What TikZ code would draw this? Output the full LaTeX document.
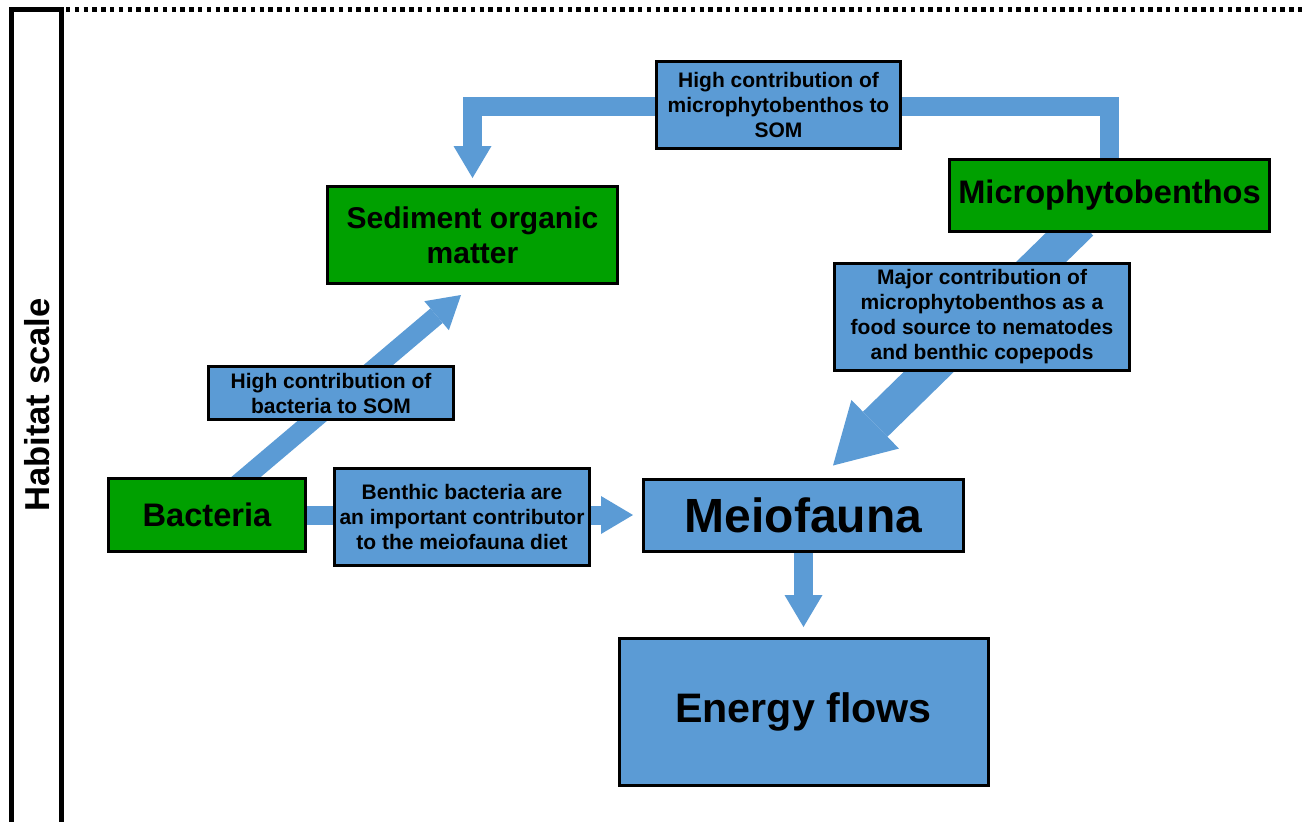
\documentclass[tikz,border=0pt]{standalone}
\usepackage{fontspec}
\setmainfont{Liberation Sans}
\usepackage{tikz}
\usetikzlibrary{arrows.meta, backgrounds, positioning}
\definecolor{boxgreen}{RGB}{0,160,0}
\definecolor{boxblue}{RGB}{91,155,213}
\tikzset{
    greennode/.style = {draw, rectangle, fill=boxgreen, line width=1.5pt, inner sep=0pt, 
      node distance=0em, font=\bfseries\fontsize{16.3}{19}\selectfont},
    bluenode/.style = {draw, rectangle, fill=boxblue, line width=1.5pt, inner sep=0pt, 
      node distance=0em, font=\bfseries},
    labelnode/.style = {bluenode, font=\bfseries\fontsize{10.5}{12.5}\selectfont},
    textnode/.style = {draw=none, fill=none, rectangle, inner sep=0pt, node distance=0em, font=\bfseries},
    flow/.style = {draw=boxblue, line width=9.5pt, line join=miter, 
      -{Triangle[width=19pt, length=16pt, line width=0pt]}},
    bigflow/.style = {draw=boxblue, line width=17.5pt, 
      -{Triangle[width=34pt, length=29.5pt, line width=0pt]}},
    every text node part/.style={align=center}
}

\begin{document}
\begin{tikzpicture}[x=0.5pt, y=-0.5pt, node distance=0em]
    \useasboundingbox (0,0) rectangle (1303,821);
    % scale bar on the left
    \draw[line width=2.5pt] (11.5,840) -- (11.5,9.5) -- (61.5,9.5) -- (61.5,840);
    \draw[line width=2.2pt, dash pattern=on 2.2pt off 2.2pt] (66,9.5) -- (1303,9.5);
    \node [textnode, name=habitat, rotate=90, font=\bfseries\fontsize{17.3}{20}\selectfont] at (37,405) {Habitat scale};

    \node [greennode, name=bacteria, minimum width=98.5pt, minimum height=36.5pt] at (207,515) {Bacteria};
    \node [greennode, name=som, above of = bacteria, xshift=132.75pt, yshift=140pt, 
      minimum width=145pt, minimum height=48.5pt, font=\bfseries\fontsize{15}{17.5}\selectfont] {Sediment organic\\matter};
    \node [greennode, name=micro, right of = som, xshift=318.5pt, yshift=19.75pt, 
      minimum width=160pt, minimum height=36pt] {Microphytobenthos};
    \node [bluenode, name=meio, right of = bacteria, xshift=298.25pt, 
      minimum width=160pt, minimum height=36pt, font=\bfseries\fontsize{24}{28}\selectfont] {Meiofauna};
    \node [bluenode, name=energy, below of = meio, yshift=-98.5pt, 
      minimum width=184.5pt, minimum height=73.5pt, font=\bfseries\fontsize{20.6}{24}\selectfont] {Energy flows};

    \begin{scope}[on background layer]
        \draw[flow] ([yshift=-3pt]micro.north) -- ++(0,29pt) -| ([yshift=3.5pt]som.north);
        \draw[flow] ([xshift=14.9pt, yshift=-3.9pt]bacteria.north) -- ([xshift=-5.75pt, yshift=-5pt]som.south);
        \draw[flow] (bacteria.east) -- ([xshift=-4.5pt]meio.west);
        \draw[bigflow] ([xshift=-14.25pt, yshift=5pt]micro.south) -- ([xshift=14.75pt, yshift=6pt]meio.north);
        \draw[flow] (meio.south) -- ([yshift=5pt]energy.north);
    \end{scope}

    \node [labelnode, name=topnote, above of = som, xshift=153pt, yshift=65pt, 
      minimum width=122pt, minimum height=43.5pt] {High contribution of\\microphytobenthos to\\SOM};
    \node [labelnode, name=bactnote, above of = bacteria, xshift=62pt, yshift=61pt, 
      minimum width=122.5pt, minimum height=26.5pt] {High contribution of\\bacteria to SOM};
    \node [labelnode, name=dietnote, right of = bacteria, xshift=127.5pt, yshift=-1pt, 
      minimum width=127.5pt, minimum height=48.5pt] {Benthic bacteria are\\an important contributor\\to the meiofauna diet};
    \node [labelnode, name=foodnote, below of = micro, xshift=-63.75pt, yshift=-60.75pt, 
      minimum width=147.5pt, minimum height=53.5pt] {Major contribution of\\microphytobenthos as a\\food source to nematodes\\and benthic copepods};
\end{tikzpicture}
\end{document}
